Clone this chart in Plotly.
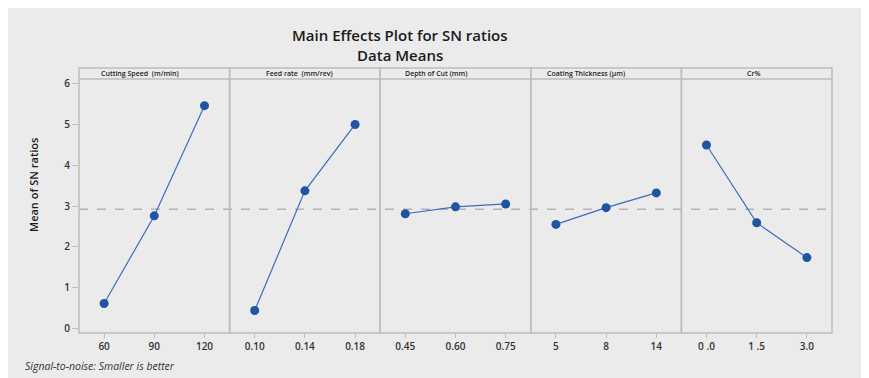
import plotly.graph_objects as go

# ---------------- data ----------------
panel_titles = ["Cutting Speed  (m/min)", "Feed rate  (mm/rev)", "Depth of Cut (mm)",
                "Coating Thickness (µm)", "Cr%"]
speed_levels = ["60", "90", "120"]
speed_sn = [0.62, 2.76, 5.45]
feed_levels = ["0.10", "0.14", "0.18"]
feed_sn = [0.45, 3.37, 4.99]
depth_levels = ["0.45", "0.60", "0.75"]
depth_sn = [2.81, 2.98, 3.05]
coating_levels = ["5", "8", "14"]
coating_sn = [2.55, 2.96, 3.32]
cr_levels = ["0 .0", "1 .5", "3.0"]
cr_sn = [4.49, 2.59, 1.74]
mean_sn = 2.92
y_ticks = [0, 1, 2, 3, 4, 5, 6]

levels = [speed_levels, feed_levels, depth_levels, coating_levels, cr_levels]
values = [speed_sn, feed_sn, depth_sn, coating_sn, cr_sn]

# ---------------- layout geometry ----------------
# The page body adds an 8px offset, so the figure is 8px smaller and all
# reference pixel coordinates are shifted by OFF.
OFF = 8
W, H = 869 - OFF, 378 - OFF
L, T = 79 - OFF, 68 - OFF
R = W - (832 - OFF)
B = H - (333 - OFF)
PW, PH = W - L - R, H - T - B
HEADER = 11
ytop = (PH - HEADER) / PH
header_cx = [140, 299, 436, 586, 754]  # reference pixel centres of panel headers


def px(x):
    return (x - OFF - L) / PW


def py(y):
    return (H - B - (y - OFF)) / PH


FONT = "Open Sans"
BLUE_M = "#1f54a3"
BLUE_L = "#3b6cc0"
GRID = "#bdbdbd"

fig = go.Figure()
n = len(levels)
layout_axes = {}
shapes = []
annotations = []

for i in range(n):
    xname = "x" if i == 0 else f"x{i+1}"
    axkey = "xaxis" if i == 0 else f"xaxis{i+1}"
    fig.add_trace(go.Scatter(
        x=levels[i], y=values[i], xaxis=xname, yaxis="y",
        mode="lines+markers",
        line=dict(color=BLUE_L, width=1.2),
        marker=dict(color=BLUE_M, size=9, line=dict(width=0)),
        showlegend=False, cliponaxis=False,
    ))
    layout_axes[axkey] = dict(
        domain=[i / n, (i + 1) / n], anchor="y", type="category",
        range=[-0.5, 2.5], showgrid=False, zeroline=False, showline=False,
        ticks="outside", ticklen=4, tickcolor=GRID, tickwidth=1,
        tickfont=dict(family=FONT, size=10, color="#333333", weight=600),
        fixedrange=True,
    )
    shapes.append(dict(type="rect", xref="paper", yref="paper",
                       x0=i / n, x1=(i + 1) / n, y0=0, y1=1,
                       line=dict(color=GRID, width=1.5), layer="above"))
    annotations.append(dict(
        text=panel_titles[i], xref="paper", yref="paper",
        x=px(header_cx[i]), y=(1 + ytop) / 2, xanchor="center", yanchor="middle",
        showarrow=False, font=dict(family=FONT, size=7, color="#222222", weight=600),
    ))

shapes.append(dict(type="line", xref="paper", yref="paper", x0=0, x1=1,
                   y0=ytop, y1=ytop, line=dict(color=GRID, width=1.5), layer="above"))
shapes.append(dict(type="line", xref="paper", yref="y", x0=0, x1=1,
                   y0=mean_sn, y1=mean_sn,
                   line=dict(color="#b4b4b4", width=1.5, dash="dash"), layer="below"))
shapes.insert(0, dict(type="rect", xref="paper", yref="paper",
                      x0=px(-20), x1=px(866), y0=py(400), y1=py(-20),
                      fillcolor="#ebebeb", line=dict(color="#d6d6d6", width=1),
                      layer="below"))

annotations += [
    dict(text="Main Effects Plot for SN ratios", xref="paper", yref="paper",
         x=px(400), y=py(35), xanchor="center", yanchor="middle", showarrow=False,
         font=dict(family=FONT, size=15, color="#1a1a1a", weight=600)),
    dict(text="Data Means", xref="paper", yref="paper",
         x=px(400), y=py(55), xanchor="center", yanchor="middle", showarrow=False,
         font=dict(family=FONT, size=15, color="#1a1a1a", weight=600)),
    dict(text="Mean of SN ratios", xref="paper", yref="paper", textangle=-90,
         x=px(33), y=py(185), xanchor="center", yanchor="middle", showarrow=False,
         font=dict(family=FONT, size=11, color="#1a1a1a", weight=600)),
    dict(text="<i>Signal-to-noise: Smaller is better</i>", xref="paper", yref="paper",
         x=px(23), y=py(366), xanchor="left", yanchor="middle", showarrow=False,
         font=dict(family=FONT, size=10.5, color="#333333")),
]

fig.update_layout(
    width=W, height=H,
    margin=dict(l=L, r=R, t=T, b=B, pad=0),
    paper_bgcolor="white", plot_bgcolor="white",
    yaxis=dict(domain=[0, ytop], range=[-0.1, 6.1], tickvals=y_ticks,
               showgrid=False, zeroline=False, showline=False,
               ticks="outside", ticklen=6, tickcolor=GRID, tickwidth=1,
               tickfont=dict(family=FONT, size=10, color="#333333", weight=600),
               fixedrange=True),
    shapes=shapes, annotations=annotations,
    **layout_axes,
)

fig.write_html("out.html")
